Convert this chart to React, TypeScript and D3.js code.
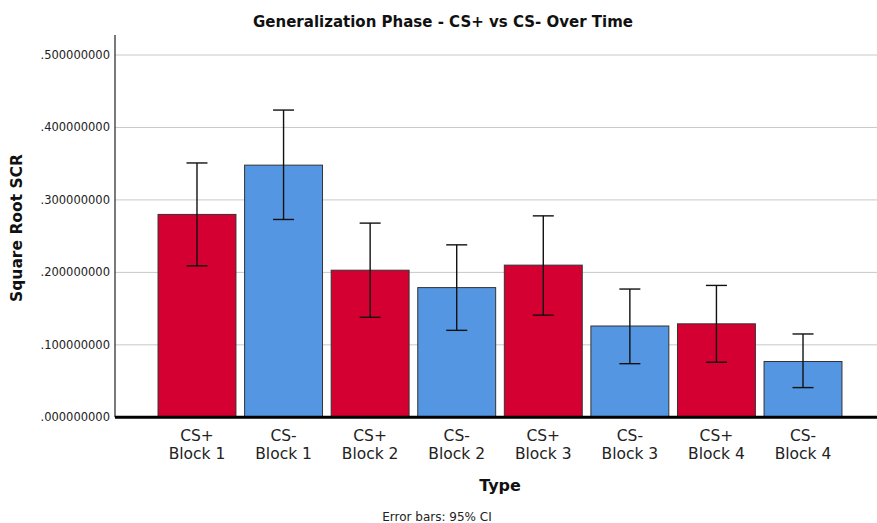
import * as d3 from "d3";

const categories = ["CS+ Block 1", "CS- Block 1", "CS+ Block 2", "CS- Block 2", "CS+ Block 3", "CS- Block 3", "CS+ Block 4", "CS- Block 4"];
const means = [0.280, 0.348, 0.203, 0.179, 0.210, 0.126, 0.129, 0.077];
const ciLow = [0.209, 0.273, 0.138, 0.120, 0.141, 0.074, 0.076, 0.041];
const ciHigh = [0.351, 0.424, 0.268, 0.238, 0.278, 0.177, 0.182, 0.115];
const yTicks = [0, 0.1, 0.2, 0.3, 0.4, 0.5];

const W = 877;
const H = 523;
const FONT = "'DejaVu Sans', sans-serif";

export default function App() {
  const left = 115;
  const right = 877;

  // y: 0 sits on the thick baseline, .5 near the top of the axis
  const y = d3.scaleLinear().domain([0, 0.5]).range([417.3, 55]);
  const x = d3.scaleBand<string>()
    .domain(categories)
    .range([153.7, 846.3])
    .paddingInner(0.1)
    .paddingOuter(0.05);

  const capW = 21;

  return (
    <svg width={W} height={H} style={{ display: "block", position: "absolute", left: 0, top: 0, background: "#fff" }} fontFamily={FONT}>
      <text x={443} y={27} textAnchor="middle" fontSize={15} fontWeight="bold" fill="#111">
        Generalization Phase - CS+ vs CS- Over Time
      </text>

      {/* grid lines */}
      {yTicks.filter(t => t > 0).map(t => (
        <line key={t} x1={left} x2={right} y1={y(t)} y2={y(t)} stroke="#c8c8c8" strokeWidth={1} />
      ))}

      {/* tick labels */}
      {yTicks.map(t => (
        <text key={t} x={110} y={y(t)} dy="0.35em" textAnchor="end" fontSize={11.5} fill="#222">
          {d3.format(".9f")(t).replace(/^0/, "")}
        </text>
      ))}

      {/* bars */}
      {categories.map((c, i) => (
        <rect
          key={c}
          x={x(c)}
          y={y(means[i])}
          width={x.bandwidth()}
          height={y(0) - y(means[i])}
          fill={c.startsWith("CS+") ? "#d50032" : "#5596e3"}
          stroke="#333"
          strokeWidth={1}
        />
      ))}

      {/* error bars */}
      {categories.map((c, i) => {
        const cx = (x(c) as number) + x.bandwidth() / 2;
        return (
          <g key={c} stroke="#111" strokeWidth={1.4}>
            <line x1={cx} x2={cx} y1={y(ciHigh[i])} y2={y(ciLow[i])} />
            <line x1={cx - capW / 2} x2={cx + capW / 2} y1={y(ciHigh[i])} y2={y(ciHigh[i])} />
            <line x1={cx - capW / 2} x2={cx + capW / 2} y1={y(ciLow[i])} y2={y(ciLow[i])} />
          </g>
        );
      })}

      {/* axes */}
      <line x1={left} x2={left} y1={35} y2={y(0)} stroke="#222" strokeWidth={1.2} />
      <line x1={left} x2={right} y1={y(0)} y2={y(0)} stroke="#000" strokeWidth={3} />

      {/* category labels, two lines each */}
      {categories.map(c => {
        const cx = (x(c) as number) + x.bandwidth() / 2;
        const [a, ...rest] = c.split(" ");
        return (
          <g key={c} fontSize={15.5} fill="#222" textAnchor="middle">
            <text x={cx} y={441}>{a}</text>
            <text x={cx} y={459}>{rest.join(" ")}</text>
          </g>
        );
      })}

      <text x={500} y={491} textAnchor="middle" fontSize={16} fontWeight="bold" fill="#111">Type</text>
      <text transform={`translate(22,${228}) rotate(-90)`} textAnchor="middle" fontSize={15.5} fontWeight="bold" fill="#111">
        Square Root SCR
      </text>
      <text x={437} y={521} textAnchor="middle" fontSize={12} fill="#222">Error bars: 95% CI</text>
    </svg>
  );
}
